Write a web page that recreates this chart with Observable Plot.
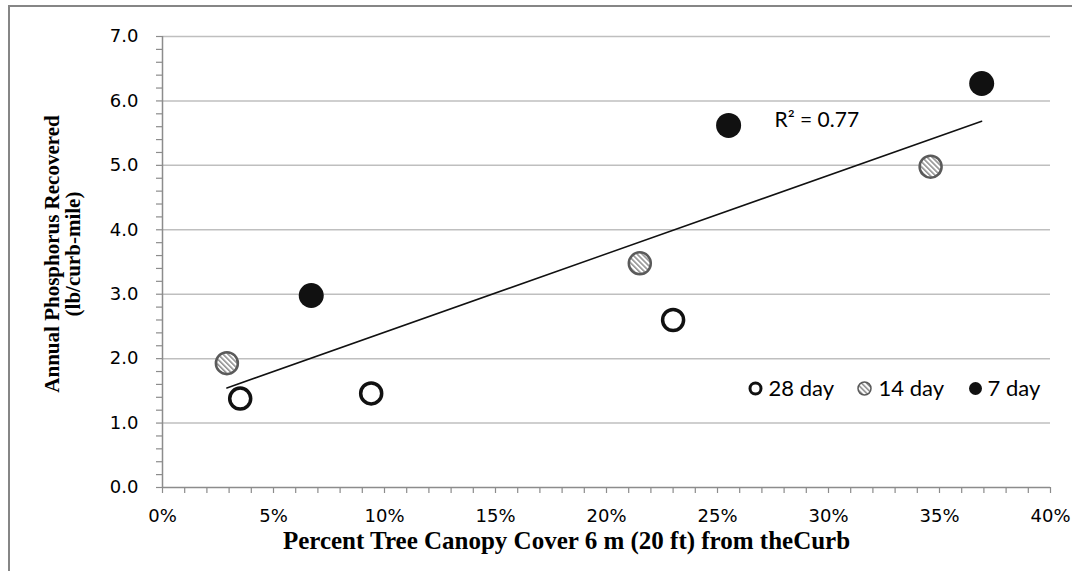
<!DOCTYPE html>
<html>
<head>
<meta charset="utf-8">
<script src="https://cdn.jsdelivr.net/npm/d3@7"></script>
<script src="https://cdn.jsdelivr.net/npm/@observablehq/plot@0.6"></script>
<style>
  html, body { margin: 0; padding: 0; background: #fff; }
  body { width: 1072px; height: 571px; position: relative; overflow: hidden; }
  #chart { position: absolute; left: 0; top: 0; }
  #frame { position: absolute; left: 8px; top: 5px; width: 1120px; height: 620px;
           border: 2px solid #868686; background: transparent; pointer-events: none; z-index: 2; }
</style>
</head>
<body>
<div id="chart"></div>
<div id="frame"></div>
<script>
// ---- data ----
const seriesNames = ["28 day", "14 day", "7 day"];
const canopy28 = [3.5, 9.4, 23.0];
const phos28   = [1.38, 1.46, 2.60];
const canopy14 = [2.9, 21.5, 34.6];
const phos14   = [1.93, 3.48, 4.98];
const canopy7  = [6.7, 25.5, 36.9];
const phos7    = [2.98, 5.62, 6.27];

const xTicks = [0, 5, 10, 15, 20, 25, 30, 35, 40];
const yTicks = [0, 1, 2, 3, 4, 5, 6, 7];
const xMinorTicks = d3.range(0, 41, 1);
const yMinorTicks = d3.range(0, 36).map(i => +(i * 0.2).toFixed(1));

const xTitle = "Percent Tree Canopy Cover 6 m (20 ft) from theCurb";
const yTitle = "Annual Phosphorus Recovered\n(lb/curb-mile)";
const r2Label = "R\u00B2 = 0.77";

// ---- table built from the arrays ----
const rows = [
  ...canopy28.map((x, i) => ({x, y: phos28[i], s: seriesNames[0]})),
  ...canopy14.map((x, i) => ({x, y: phos14[i], s: seriesNames[1]})),
  ...canopy7.map((x, i) => ({x, y: phos7[i], s: seriesNames[2]}))
];

const AXIS = "#8c8c8c";
const GRID = "#bfbfbf";
const INK = "#111";
const HATCH_STROKE = "#5a5a5a";
const tickFont = "'DejaVu Sans', Verdana, sans-serif";
const sansLegend = "Lato, 'Open Sans', sans-serif";
const serifTitle = "'Liberation Serif', 'Times New Roman', serif";

const plot = Plot.plot({
  width: 1072,
  height: 571,
  marginLeft: 162,
  marginRight: 22,
  marginTop: 36,
  marginBottom: 84,
  x: {domain: [0, 40]},
  y: {domain: [0, 7]},
  style: {fontFamily: tickFont, fontSize: "18px", color: "#000", background: "transparent", overflow: "visible"},
  marks: [
    Plot.gridY(yTicks.filter(d => d > 0), {stroke: GRID, strokeOpacity: 1, strokeWidth: 1.5}),
    Plot.ruleY([0], {stroke: AXIS, strokeWidth: 1.5}),
    Plot.ruleX([0], {stroke: AXIS, strokeWidth: 1.5}),
    Plot.axisY(yMinorTicks, {tickSize: 6, text: null, stroke: AXIS, strokeWidth: 1.2, label: null}),
    Plot.axisY(yTicks, {tickSize: 0, tickPadding: 24, tickFormat: d => d.toFixed(1), label: null, fontSize: 18, fontFamily: tickFont, fill: "#000"}),
    Plot.axisX(xMinorTicks, {tickSize: 6, text: null, stroke: AXIS, strokeWidth: 1.2, label: null}),
    Plot.axisX(xTicks, {tickSize: 0, tickPadding: 22, tickFormat: d => d + "%", label: null, fontSize: 18, fontFamily: tickFont, fill: "#000"}),

    Plot.linearRegressionY(rows, {x: "x", y: "y", ci: 0, stroke: INK, strokeWidth: 1.5}),

    Plot.dot(rows.filter(d => d.s === seriesNames[0]), {x: "x", y: "y", r: 10.5, fill: "white", stroke: INK, strokeWidth: 3.5}),
    Plot.dot(rows.filter(d => d.s === seriesNames[1]), {x: "x", y: "y", r: 11, fill: "url(#hatch)", stroke: HATCH_STROKE, strokeWidth: 2.5}),
    Plot.dot(rows.filter(d => d.s === seriesNames[2]), {x: "x", y: "y", r: 12.5, fill: INK, stroke: "none"}),

    // trendline label
    Plot.text([r2Label], {frameAnchor: "top-left", dx: 612, dy: 84, textAnchor: "start", lineAnchor: "middle", fontFamily: sansLegend, fontSize: 21, fill: "#000"}),

    // legend
    Plot.dot([0], {frameAnchor: "top-left", dx: 593, dy: 352, r: 5.5, fill: "white", stroke: INK, strokeWidth: 3}),
    Plot.text([seriesNames[0]], {frameAnchor: "top-left", dx: 606, dy: 352, textAnchor: "start", lineAnchor: "middle", fontFamily: sansLegend, fontSize: 22, fill: "#000"}),
    Plot.dot([0], {frameAnchor: "top-left", dx: 702, dy: 352, r: 6.5, fill: "url(#hatch)", stroke: HATCH_STROKE, strokeWidth: 1.5}),
    Plot.text([seriesNames[1]], {frameAnchor: "top-left", dx: 716, dy: 352, textAnchor: "start", lineAnchor: "middle", fontFamily: sansLegend, fontSize: 22, fill: "#000"}),
    Plot.dot([0], {frameAnchor: "top-left", dx: 813, dy: 352, r: 6.5, fill: INK, stroke: "none"}),
    Plot.text([seriesNames[2]], {frameAnchor: "top-left", dx: 825, dy: 352, textAnchor: "start", lineAnchor: "middle", fontFamily: sansLegend, fontSize: 22, fill: "#000"}),

    // axis titles
    Plot.text([xTitle], {frameAnchor: "bottom", dx: -40, dy: 53, lineAnchor: "middle", fontFamily: serifTitle, fontWeight: "bold", fontSize: 25, fill: "#000"}),
    Plot.text([yTitle], {frameAnchor: "left", dx: -100, dy: -8, rotate: -90, textAnchor: "middle", lineAnchor: "middle", lineHeight: 1.0, fontFamily: serifTitle, fontWeight: "bold", fontSize: 21, fill: "#000"})
  ]
});

// hatch pattern for the 14-day markers
const defs = d3.select(plot).insert("defs", ":first-child");
const pat = defs.append("pattern")
  .attr("id", "hatch")
  .attr("patternUnits", "userSpaceOnUse")
  .attr("width", 3.6)
  .attr("height", 3.6)
  .attr("patternTransform", "rotate(-45)");
pat.append("rect").attr("width", 3.6).attr("height", 3.6).attr("fill", "#ffffff");
pat.append("line").attr("x1", 0.8).attr("y1", 0).attr("x2", 0.8).attr("y2", 3.6)
  .attr("stroke", "#8a8a8a").attr("stroke-width", 1.5);

document.getElementById("chart").appendChild(plot);
</script>
</body>
</html>
